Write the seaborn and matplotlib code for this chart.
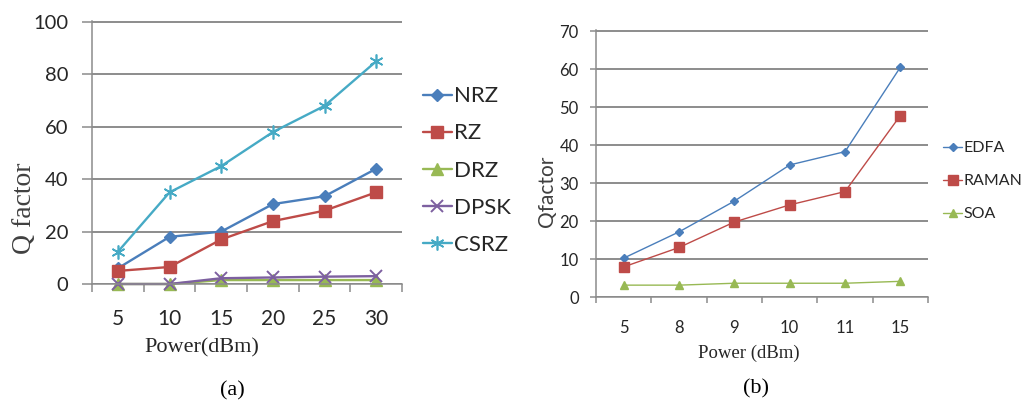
import matplotlib
matplotlib.use("Agg")
import matplotlib.pyplot as plt
import seaborn as sns

# (a) Q factor for the modulation formats
power_a = ['5', '10', '15', '20', '25', '30']
nrz = [6, 18, 20, 30.5, 33.5, 44]
rz = [5, 6.5, 17, 24, 28, 35]
drz = [0, 0, 1.5, 1.5, 1.5, 1.5]
dpsk = [0, 0, 2.2, 2.5, 2.8, 3]
csrz = [12.3, 35, 45, 58, 68, 85]
names_a = ['NRZ', 'RZ', 'DRZ', 'DPSK', 'CSRZ']

# (b) Q factor for the amplifiers
power_b = ['5', '8', '9', '10', '11', '15']
edfa = [10.3, 17.2, 25.3, 34.8, 38.3, 60.5]
raman = [8, 13.1, 19.8, 24.3, 27.8, 47.8]
soa = [3.2, 3.2, 3.7, 3.7, 3.7, 4.2]
names_b = ['EDFA', 'RAMAN', 'SOA']

# colour, marker, size, edge width
styles_a = {'NRZ': ('#4A7EBB', 'D', 6.5, 1),
            'RZ': ('#BE4B48', 's', 8, 1),
            'DRZ': ('#98B954', '^', 8, 1),
            'DPSK': ('#7D60A0', 'x', 8, 1.4),
            'CSRZ': ('#46AAC5', (6, 2, 0), 10, 1.2)}
styles_b = {'EDFA': ('#4A7EBB', 'D', 4.5, 1),
            'RAMAN': ('#BE4B48', 's', 6.5, 1),
            'SOA': ('#98B954', '^', 5.5, 1)}

grid_col = '#8C8C8C'
txt_col = '#262626'
serif = ['Liberation Serif', 'DejaVu Serif']

sns.set_style("white")
plt.rcParams['font.family'] = ['Lato', 'DejaVu Sans']

fig = plt.figure(figsize=(10.25, 4.07), dpi=100)
ax1 = fig.add_axes([0.0898, 0.3022, 0.3024, 0.6462])
ax2 = fig.add_axes([0.5815, 0.2695, 0.3239, 0.6568])


def draw(ax, x, series, names, styles, lw):
    for name, vals in zip(names, series):
        col, mk, ms, mew = styles[name]
        sns.lineplot(x=x, y=vals, ax=ax, color=col, marker=mk, markersize=ms,
                     mec=col, mfc=col, mew=mew, lw=lw, label=name, sort=False,
                     errorbar=None, legend=False, clip_on=False)


def style_axis(ax, ymax, ystep, yfs, xfs, ylen, ypad, xlen, xpad):
    ax.set_xlim(-0.5, 5.5)
    ax.set_ylim(0, ymax * 1.004)
    ax.set_yticks(range(0, ymax + 1, ystep))
    ax.set_xticks(range(6))
    ax.set_xticks([i - 0.5 for i in range(7)], minor=True)
    ax.yaxis.grid(True, color=grid_col, lw=1.4)
    ax.xaxis.grid(False)
    ax.set_axisbelow(True)
    ax.spines[['top', 'right']].set_visible(False)
    ax.spines[['left', 'bottom']].set_color(grid_col)
    ax.spines[['left', 'bottom']].set_linewidth(1.1)
    ax.tick_params(axis='y', which='major', length=ylen, width=1.1, color=grid_col,
                   pad=ypad, labelsize=yfs, labelcolor=txt_col, left=True)
    ax.tick_params(axis='x', which='major', length=0, pad=xpad, labelsize=xfs,
                   labelcolor=txt_col)
    ax.tick_params(axis='x', which='minor', length=xlen, width=1.1, color=grid_col,
                   bottom=True, direction='out')


draw(ax1, power_a, [nrz, rz, drz, dpsk, csrz], names_a, styles_a, 1.7)
draw(ax2, power_b, [edfa, raman, soa], names_b, styles_b, 1.0)

style_axis(ax1, 100, 20, 14.5, 15, 7, 10, 5.5, 18)
style_axis(ax2, 70, 10, 12, 12, 4.5, 8, 4.5, 16)

ax1.set_ylabel('Q factor', fontsize=20, family=serif, color='#404040',
               ha='center', va='center')
ax1.yaxis.set_label_coords(-0.219, 0.289)
ax1.set_xlabel('Power(dBm)', fontsize=16, family=serif, color=txt_col,
               ha='center', va='center')
ax1.xaxis.set_label_coords(0.355, -0.243)

ax2.set_ylabel('Qfactor', fontsize=15, color='#404040', ha='center', va='center')
ax2.yaxis.set_label_coords(-0.148, 0.398)
ax2.set_xlabel('Power (dBm)', fontsize=13.5, family=serif, color=txt_col,
               ha='center', va='center')
ax2.xaxis.set_label_coords(0.461, -0.208)

ax1.legend(loc='center left', bbox_to_anchor=(423 / 1025, 0.581),
           bbox_transform=fig.transFigure, frameon=False, fontsize=16,
           borderpad=0, borderaxespad=0, handlelength=1.3, handletextpad=0.1,
           labelspacing=0.77, labelcolor=txt_col)
ax2.legend(loc='center left', bbox_to_anchor=(943 / 1025, 0.555),
           bbox_transform=fig.transFigure, frameon=False, fontsize=11.5,
           borderpad=0, borderaxespad=0, handlelength=1.2, handletextpad=0.1,
           labelspacing=1.18, labelcolor=txt_col)

fig.text(0.2263, 0.0393, '(a)', fontsize=16, family=serif, color='black',
         ha='center', va='center')
fig.text(0.7376, 0.0442, '(b)', fontsize=16, family=serif, color='black',
         ha='center', va='center')

fig.savefig('out.png', dpi=100)
